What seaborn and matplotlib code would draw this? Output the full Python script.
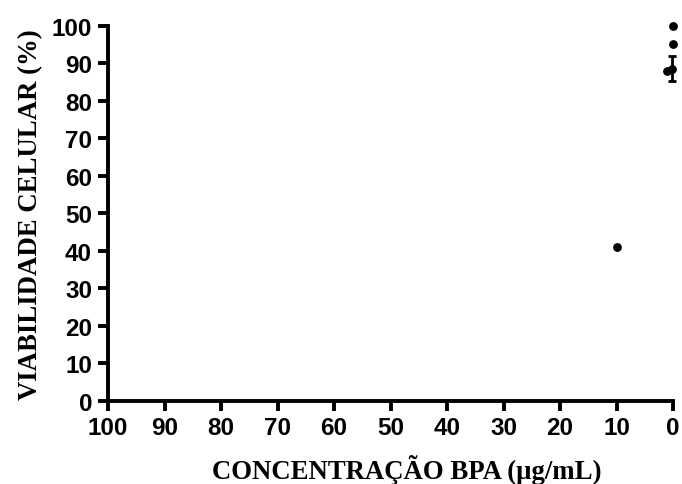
import numpy as np
import pandas as pd
import matplotlib
matplotlib.use("Agg")
import matplotlib.pyplot as plt
import seaborn as sns

sns.set(style="white", color_codes=True)

conc = [10, 1, 0.1, 0.01, 0.001]
viab = [41, 87.8, 88.5, 95, 100]
sd = [0, 0, 3.3, 0, 0]
xticks = [100, 90, 80, 70, 60, 50, 40, 30, 20, 10, 0]
yticks = [0, 10, 20, 30, 40, 50, 60, 70, 80, 90, 100]

df = pd.DataFrame({'conc': conc, 'viab': viab, 'sd': sd})

fig = plt.figure(figsize=(6.82, 4.85), dpi=100)
ax = fig.add_axes([0.1584, 0.1711, 0.8284, 0.7742])

sns.scatterplot(data=df, x='conc', y='viab', ax=ax, color='black', s=40,
                edgecolor='black', linewidth=0, clip_on=False, zorder=3)
err = df[df['sd'] > 0]
ax.errorbar(err['conc'], err['viab'], yerr=err['sd'], fmt='none', ecolor='black',
            elinewidth=2, capsize=3, capthick=2, clip_on=False, zorder=2)

ax.set_xlim(100, 0)
ax.set_ylim(0, 100)
ax.set_xticks(xticks)
ax.set_yticks(yticks)

tick_font = {'family': ['Liberation Sans', 'DejaVu Sans'], 'weight': 'bold', 'size': 17.5}
ax.set_xticklabels([str(t) for t in xticks], fontdict=tick_font)
ax.set_yticklabels([str(t) for t in yticks], fontdict=tick_font)

lab_font = {'family': ['Liberation Serif', 'DejaVu Serif'], 'weight': 'bold', 'size': 19.3,
            'color': 'black'}
ax.set_xlabel('CONCENTRAÇÃO BPA (µg/mL)', fontdict=lab_font, labelpad=10.5)
ax.set_ylabel('VIABILIDADE CELULAR (%)', fontdict=lab_font, labelpad=6.5)
ax.xaxis.label.set_x(0.529)

for side in ['top', 'right']:
    ax.spines[side].set_visible(False)
for side in ['left', 'bottom']:
    ax.spines[side].set_linewidth(2.8)
    ax.spines[side].set_color('black')
    ax.spines[side].set_capstyle('projecting')
ax.tick_params(axis='both', direction='out', length=7.5, width=2.8, color='black',
               left=True, bottom=True, labelcolor='black')
ax.tick_params(axis='x', pad=3.5)
ax.tick_params(axis='y', pad=4)

fig.savefig('out.png', dpi=100)
